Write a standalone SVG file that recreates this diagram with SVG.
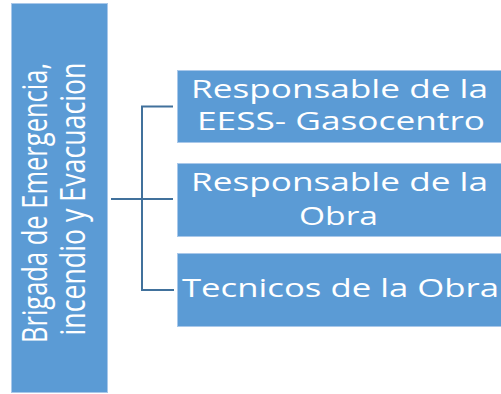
<svg xmlns="http://www.w3.org/2000/svg" width="501" height="394" viewBox="0 0 501 394">
<style>
.box{fill:#5B9BD5;stroke:#A9C8EA;stroke-width:1}
.t{font-family:"Open Sans","Noto Sans","DejaVu Sans",sans-serif;fill:#FFFFFF}
.r{font-size:25px}
.l{font-size:34px}
.c{fill:none;stroke:#41719C;stroke-width:2}
</style>
<rect width="501" height="394" fill="#FFFFFF"/>
<g id="connectors">
<path class="c" d="M111 199H173"/>
<path class="c" d="M173 106.5H142V290H174"/>
</g>
<g id="brigada">
<rect class="box" x="11.5" y="3.5" width="96" height="389"/>
<text class="t l" transform="translate(47 203) rotate(-90)" text-anchor="middle" textLength="280" lengthAdjust="spacingAndGlyphs">Brigada de Emergencia,</text>
<text class="t l" transform="translate(85 199) rotate(-90)" text-anchor="middle" textLength="273" lengthAdjust="spacingAndGlyphs">incendio y Evacuacion</text>
</g>
<g id="eess">
<rect class="box" x="177.5" y="70.5" width="330" height="72"/>
<text class="t r" x="339.5" y="98" text-anchor="middle" textLength="297" lengthAdjust="spacingAndGlyphs">Responsable de la</text>
<text class="t r" x="341" y="130" text-anchor="middle" textLength="288" lengthAdjust="spacingAndGlyphs">EESS- Gasocentro</text>
</g>
<g id="obra">
<rect class="box" x="177.5" y="163.5" width="330" height="73"/>
<text class="t r" x="339.5" y="191" text-anchor="middle" textLength="297" lengthAdjust="spacingAndGlyphs">Responsable de la</text>
<text class="t r" x="338.5" y="225" text-anchor="middle" textLength="79" lengthAdjust="spacingAndGlyphs">Obra</text>
</g>
<g id="tecnicos">
<rect class="box" x="177.5" y="253.5" width="330" height="73"/>
<text class="t r" x="340.5" y="297" text-anchor="middle" textLength="317" lengthAdjust="spacingAndGlyphs">Tecnicos de la Obra</text>
</g>
</svg>
